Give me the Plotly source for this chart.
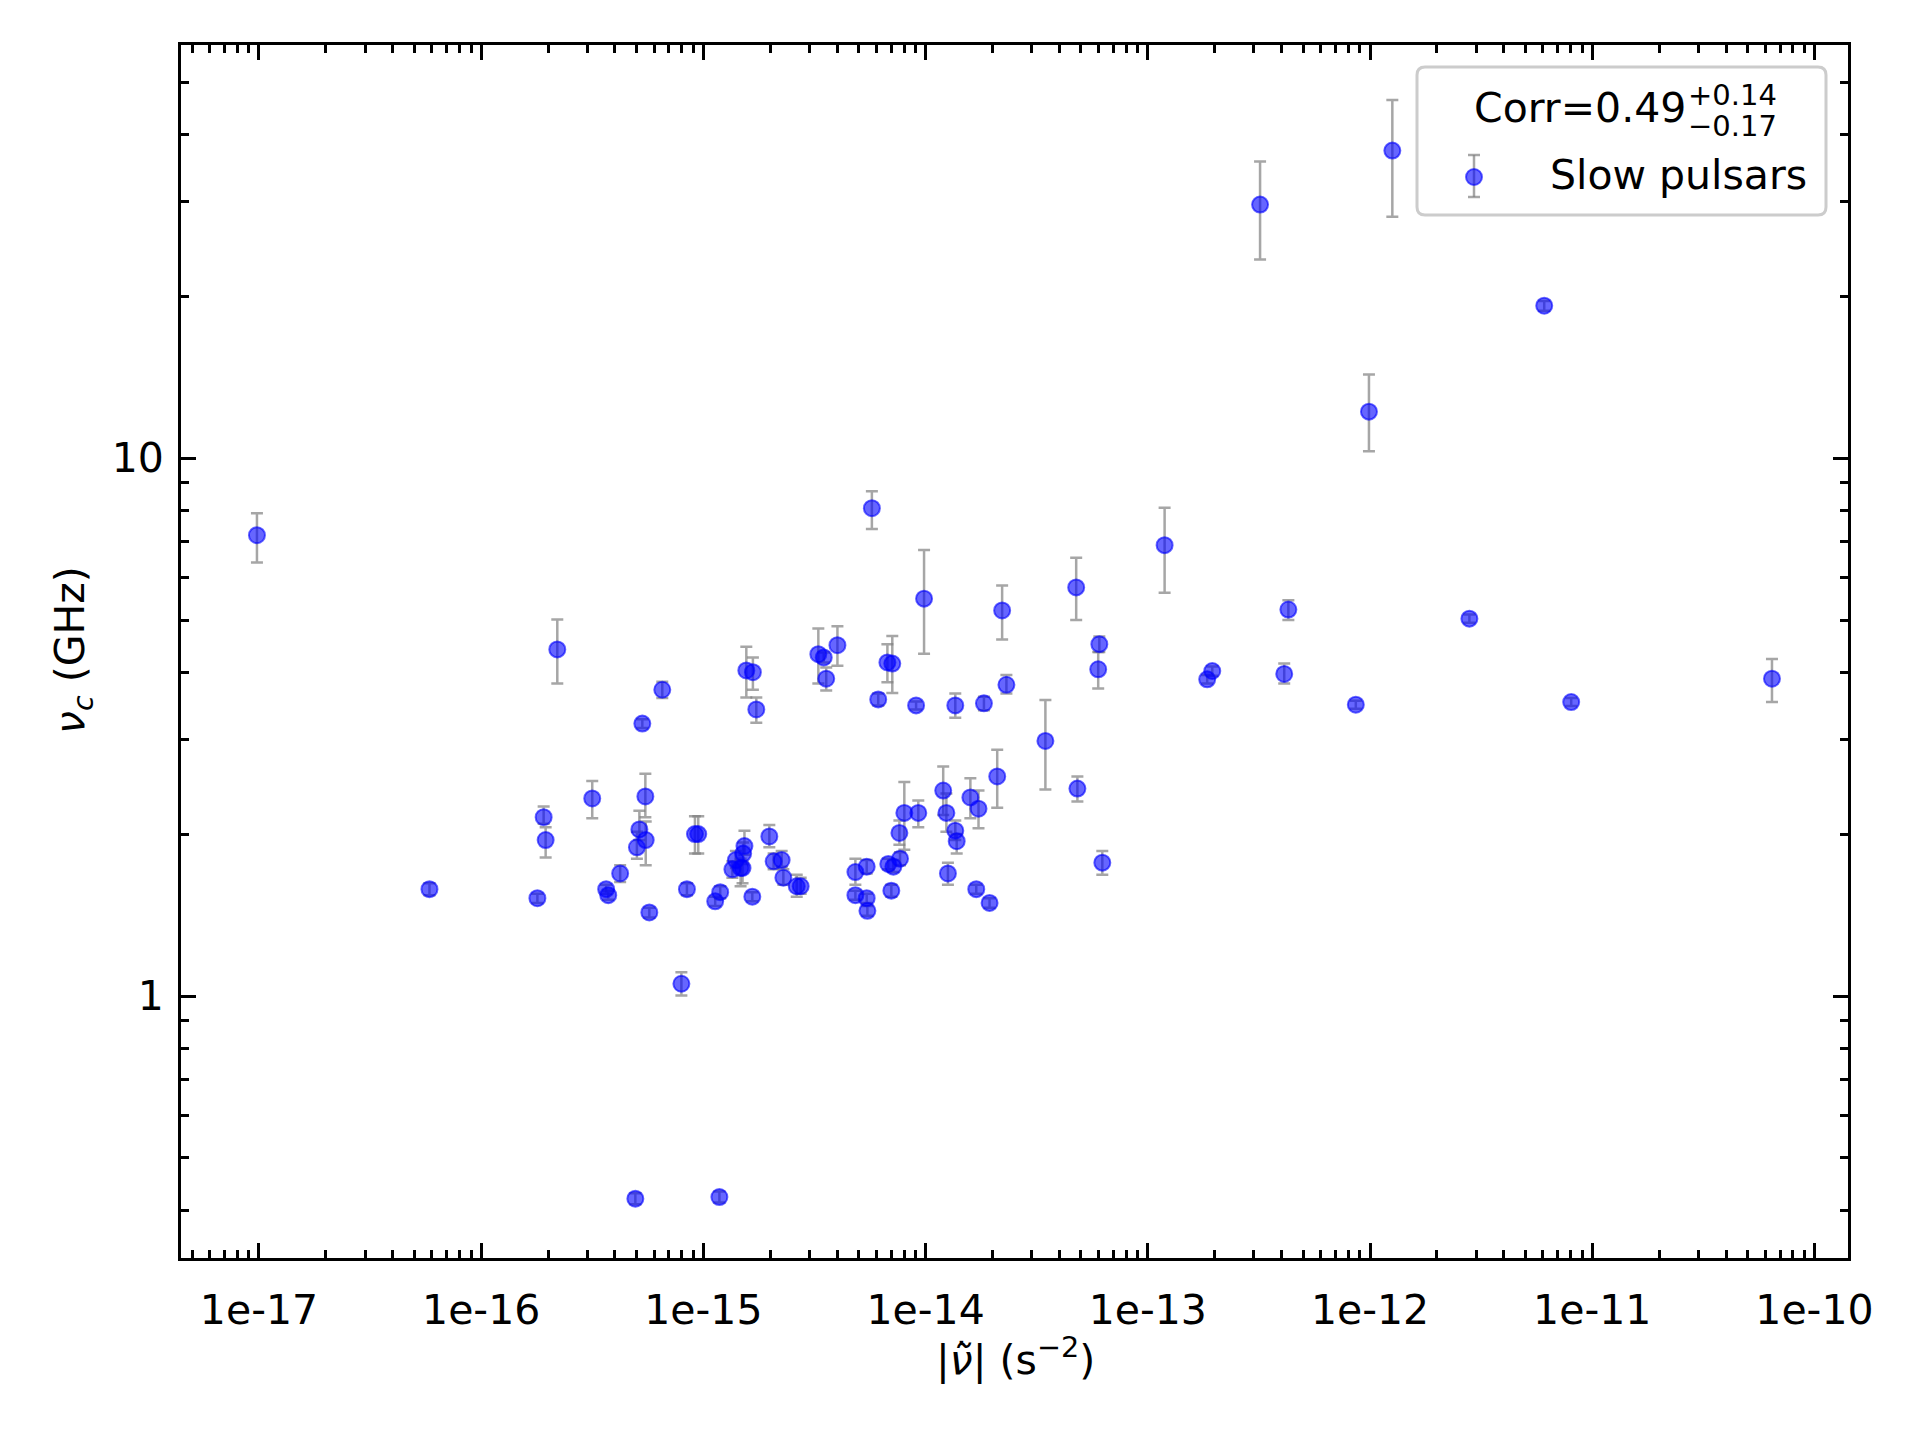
import plotly.graph_objects as go

# |nu_ddot| (s^-2)
nu_ddot = [
    9.79e-18, 5.85e-17, 1.79e-16, 1.91e-16, 1.95e-16, 2.20e-16, 3.16e-16, 3.65e-16, 3.73e-16, 4.22e-16,
    4.94e-16, 5.02e-16, 5.15e-16, 5.31e-16, 5.48e-16, 5.50e-16, 5.71e-16, 6.53e-16, 7.96e-16, 8.43e-16,
    9.16e-16, 9.48e-16, 1.13e-15, 1.18e-15, 1.19e-15, 1.35e-15, 1.40e-15, 1.47e-15, 1.50e-15, 1.51e-15,
    1.53e-15, 1.56e-15, 1.66e-15, 1.67e-15, 1.73e-15, 1.98e-15, 2.07e-15, 2.25e-15, 2.29e-15, 2.63e-15,
    2.74e-15, 3.29e-15, 3.48e-15, 3.57e-15, 4.01e-15, 4.83e-15, 4.83e-15, 5.43e-15, 5.43e-15, 5.47e-15,
    5.73e-15, 6.12e-15, 6.73e-15, 6.79e-15, 7.01e-15, 7.08e-15, 7.16e-15, 7.62e-15, 7.67e-15, 8.02e-15,
    9.06e-15, 9.27e-15, 9.84e-15, 1.20e-14, 1.24e-14, 1.26e-14, 1.36e-14, 1.36e-14, 1.38e-14, 1.59e-14,
    1.69e-14, 1.73e-14, 1.83e-14, 1.94e-14, 2.10e-14, 2.21e-14, 2.31e-14, 3.46e-14, 4.76e-14, 4.82e-14,
    5.98e-14, 6.05e-14, 6.24e-14, 1.19e-13, 1.85e-13, 1.95e-13, 3.20e-13, 4.11e-13, 4.29e-13, 8.63e-13,
    9.89e-13, 1.26e-12, 2.80e-12, 6.08e-12, 8.04e-12, 6.44e-11,
]

# nu_c (GHz)
nu_c = [
    7.19, 1.58, 1.52, 2.15, 1.95, 4.41, 2.33, 1.58, 1.54, 1.69,
    0.420, 1.89, 2.04, 3.21, 2.35, 1.95, 1.43, 3.71, 1.054, 1.58,
    2.00, 2.00, 1.50, 0.423, 1.56, 1.72, 1.79, 1.73, 1.73, 1.84,
    1.90, 4.03, 1.53, 4.00, 3.41, 1.98, 1.78, 1.79, 1.66, 1.60,
    1.60, 4.32, 4.26, 3.89, 4.49, 1.70, 1.54, 1.74, 1.52, 1.44,
    8.07, 3.56, 4.17, 1.76, 1.57, 4.15, 1.74, 2.01, 1.80, 2.19,
    3.47, 2.19, 5.48, 2.41, 2.19, 1.69, 3.47, 2.03, 1.94, 2.34,
    1.58, 2.23, 3.50, 1.49, 2.56, 5.21, 3.79, 2.98, 5.75, 2.43,
    4.05, 4.51, 1.77, 6.89, 3.88, 4.02, 29.6, 3.97, 5.23, 3.48,
    12.2, 37.3, 5.03, 19.2, 3.52, 3.89,
]

nu_c_err_up = [
    0.71, 0.04, 0.03, 0.10, 0.11, 0.60, 0.18, 0.03, 0.03, 0.06,
    0.01, 0.13, 0.17, 0.06, 0.24, 0.16, 0.03, 0.13, 0.053, 0.04,
    0.16, 0.16, 0.03, 0.010, 0.04, 0.06, 0.07, 0.07, 0.05, 0.09,
    0.13, 0.43, 0.03, 0.26, 0.18, 0.10, 0.06, 0.07, 0.06, 0.08,
    0.06, 0.50, 0.09, 0.19, 0.38, 0.10, 0.03, 0.05, 0.03, 0.03,
    0.61, 0.09, 0.34, 0.04, 0.04, 0.52, 0.05, 0.11, 0.05, 0.31,
    0.06, 0.12, 1.27, 0.26, 0.19, 0.08, 0.18, 0.09, 0.06, 0.20,
    0.03, 0.18, 0.10, 0.03, 0.31, 0.59, 0.16, 0.57, 0.78, 0.13,
    0.31, 0.15, 0.09, 1.20, 0.07, 0.08, 6.0, 0.18, 0.21, 0.06,
    2.1, 9.0, 0.09, 0.4, 0.06, 0.34,
]

nu_c_err_down = [
    0.79, 0.04, 0.03, 0.06, 0.14, 0.60, 0.19, 0.03, 0.03, 0.06,
    0.01, 0.09, 0.09, 0.06, 0.20, 0.20, 0.03, 0.13, 0.052, 0.04,
    0.16, 0.16, 0.03, 0.010, 0.04, 0.06, 0.06, 0.13, 0.11, 0.08,
    0.07, 0.44, 0.03, 0.29, 0.19, 0.09, 0.06, 0.05, 0.05, 0.07,
    0.05, 0.51, 0.09, 0.19, 0.38, 0.09, 0.03, 0.05, 0.03, 0.03,
    0.69, 0.09, 0.34, 0.04, 0.04, 0.49, 0.04, 0.10, 0.05, 0.32,
    0.06, 0.13, 1.15, 0.24, 0.17, 0.08, 0.18, 0.08, 0.10, 0.20,
    0.03, 0.18, 0.10, 0.03, 0.32, 0.61, 0.14, 0.56, 0.75, 0.13,
    0.32, 0.15, 0.09, 1.27, 0.07, 0.08, 6.2, 0.16, 0.23, 0.06,
    1.9, 9.2, 0.09, 0.4, 0.06, 0.37,
]

x_tick_vals = [1e-17, 1e-16, 1e-15, 1e-14, 1e-13, 1e-12, 1e-11, 1e-10]
x_tick_text = ["1e-17", "1e-16", "1e-15", "1e-14", "1e-13", "1e-12", "1e-11", "1e-10"]
y_tick_vals = [1, 10]
y_tick_text = ["1", "10"]

series_name = "Slow pulsars"
corr_main = "Corr=0.49"
corr_plus = "+0.14"
corr_minus = "\u22120.17"

# ---------------- layout geometry (pixels) ----------------
W, H = 1920, 1440
L, R, T, B = 181, 1848, 45, 1258
PW, PH = R - L, B - T


def px(x):
    return (x - L) / PW


def py(y):
    return (B - y) / PH


FONT = "DejaVu Sans"
FS = 41

minor_x = [m * 10.0 ** e for e in range(-18, -9) for m in range(2, 10)]
minor_y = [m * 10.0 ** e for e in range(-1, 2) for m in range(2, 10)]

fig = go.Figure()
fig.add_trace(go.Scatter(
    x=nu_ddot, y=nu_c, mode="markers", name=series_name, showlegend=False,
    marker=dict(size=16, color="rgba(0,0,255,0.6)",
                line=dict(color="rgba(0,0,255,0.6)", width=2)),
    error_y=dict(type="data", symmetric=False, array=nu_c_err_up,
                 arrayminus=nu_c_err_down, color="rgba(128,128,128,0.7)",
                 thickness=2.5, width=6),
))

axis_common = dict(
    showline=True, linecolor="black", linewidth=3, mirror="ticks",
    ticks="inside", ticklen=15, tickwidth=3, tickcolor="black",
    showgrid=False, zeroline=False,
    tickfont=dict(family=FONT, size=FS, color="black"),
)

fig.update_xaxes(
    type="log", range=[-17.351, -9.849], tickmode="array",
    tickvals=x_tick_vals, ticktext=x_tick_text, ticklabelstandoff=14,
    minor=dict(ticks="inside", ticklen=8, tickwidth=2.5, tickcolor="black",
               tickmode="array", tickvals=minor_x, showgrid=False),
    **axis_common,
)
fig.update_yaxes(
    type="log", range=[-0.487, 1.768], tickmode="array",
    tickvals=y_tick_vals, ticktext=y_tick_text, ticklabelstandoff=6,
    minor=dict(ticks="inside", ticklen=8, tickwidth=2.5, tickcolor="black",
               tickmode="array", tickvals=minor_y, showgrid=False),
    **axis_common,
)

annotations = [
    dict(xref="paper", yref="paper", x=px(1016), y=py(1357), xanchor="center", yanchor="middle",
         text="|<i>\u03bd\u0303</i>| (s<sup>\u22122</sup>)",
         showarrow=False, font=dict(family=FONT, size=FS, color="black")),
    dict(xref="paper", yref="paper", x=px(961), y=py(1343), xanchor="center", yanchor="middle",
         text="\u00b7", showarrow=False, font=dict(family=FONT, size=34, color="black")),
    dict(xref="paper", yref="paper", x=px(73), y=py(650), xanchor="center", yanchor="middle",
         text="<i>\u03bd<sub>c</sub></i> (GHz)", textangle=-90,
         showarrow=False, font=dict(family=FONT, size=FS, color="black")),
    # legend texts
    dict(xref="paper", yref="paper", x=px(1688), y=py(108), xanchor="right", yanchor="middle",
         text=corr_main, showarrow=False, font=dict(family=FONT, size=FS, color="black")),
    dict(xref="paper", yref="paper", x=px(1686), y=py(95), xanchor="left", yanchor="middle",
         text=corr_plus, showarrow=False, font=dict(family=FONT, size=29, color="black")),
    dict(xref="paper", yref="paper", x=px(1686), y=py(126), xanchor="left", yanchor="middle",
         text=corr_minus, showarrow=False, font=dict(family=FONT, size=29, color="black")),
    dict(xref="paper", yref="paper", x=px(1548), y=py(175), xanchor="left", yanchor="middle",
         text=series_name, showarrow=False, font=dict(family=FONT, size=FS, color="black")),
]

# legend frame with rounded corners
x0, x1, y0, y1, r = 1417, 1826, 67, 215, 8
path = (f"M {px(x0 + r)},{py(y0)} L {px(x1 - r)},{py(y0)} Q {px(x1)},{py(y0)} {px(x1)},{py(y0 + r)} "
        f"L {px(x1)},{py(y1 - r)} Q {px(x1)},{py(y1)} {px(x1 - r)},{py(y1)} "
        f"L {px(x0 + r)},{py(y1)} Q {px(x0)},{py(y1)} {px(x0)},{py(y1 - r)} "
        f"L {px(x0)},{py(y0 + r)} Q {px(x0)},{py(y0)} {px(x0 + r)},{py(y0)} Z")
shapes = [
    dict(type="path", xref="paper", yref="paper", path=path,
         fillcolor="rgba(255,255,255,0.8)", line=dict(color="#cccccc", width=3), layer="above"),
    # legend glyph: error bar
    dict(type="line", xref="paper", yref="paper", x0=px(1474), x1=px(1474), y0=py(155), y1=py(197),
         line=dict(color="rgba(128,128,128,0.7)", width=2.5), layer="above"),
    dict(type="line", xref="paper", yref="paper", x0=px(1468), x1=px(1480), y0=py(155), y1=py(155),
         line=dict(color="rgba(128,128,128,0.7)", width=2.5), layer="above"),
    dict(type="line", xref="paper", yref="paper", x0=px(1468), x1=px(1480), y0=py(197), y1=py(197),
         line=dict(color="rgba(128,128,128,0.7)", width=2.5), layer="above"),
    dict(type="circle", xref="paper", yref="paper", x0=px(1466), x1=px(1482), y0=py(169), y1=py(185),
         fillcolor="rgba(0,0,255,0.6)", line=dict(color="rgba(0,0,255,0.6)", width=2), layer="above"),
]

fig.update_layout(
    width=W, height=H, autosize=False,
    margin=dict(l=L, r=W - R, t=T, b=H - B, pad=0),
    paper_bgcolor="white", plot_bgcolor="white",
    font=dict(family=FONT, size=FS, color="black"),
    annotations=annotations, shapes=shapes, showlegend=False,
)

fig.write_html("out.html")
